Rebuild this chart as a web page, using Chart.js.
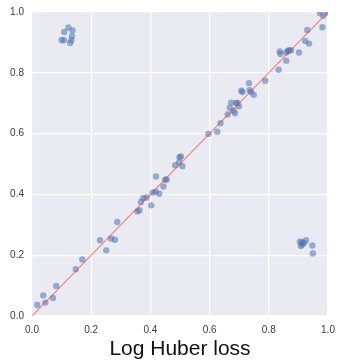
<!DOCTYPE html>
<html lang="en">
<head>
  <meta charset="UTF-8" />
  <title>Log Huber loss</title>
  <style>
    html, body { margin: 0; padding: 0; background: #fff; }
    #wrap { width: 340px; height: 360px; position: relative; }
  </style>
</head>
<body>
<div id="wrap">
  <canvas id="chart"></canvas>
</div>
<script src="https://cdn.jsdelivr.net/npm/chart.js"></script>
<script type="text/javascript">
  // predicted vs true values
  const xValues = [
    0.123, 0.109, 0.137, 0.135, 0.100, 0.108, 0.133, 0.129,
    0.905, 0.913, 0.919, 0.926, 0.908, 0.947, 0.949, 0.912,
    0.018, 0.038, 0.045, 0.071, 0.082, 0.148, 0.170, 0.230, 0.251, 0.267,
    0.280, 0.288, 0.356, 0.363, 0.368, 0.376, 0.387, 0.403, 0.408, 0.418,
    0.419, 0.430, 0.444, 0.450, 0.455, 0.484, 0.497, 0.498, 0.503, 0.508,
    0.596, 0.626, 0.637, 0.661, 0.668, 0.673, 0.680, 0.686, 0.689, 0.694,
    0.699, 0.707, 0.711, 0.733, 0.735, 0.740, 0.749, 0.788, 0.833, 0.837,
    0.839, 0.859, 0.859, 0.864, 0.869, 0.875, 0.902, 0.923, 0.930, 0.936,
    0.973, 0.984, 0.981, 0.998
  ];
  const yValues = [
    0.949, 0.934, 0.939, 0.920, 0.908, 0.907, 0.907, 0.898,
    0.244, 0.235, 0.240, 0.249, 0.230, 0.232, 0.206, 0.243,
    0.036, 0.068, 0.044, 0.059, 0.099, 0.154, 0.186, 0.249, 0.216, 0.255,
    0.251, 0.309, 0.344, 0.348, 0.375, 0.388, 0.390, 0.364, 0.406, 0.409,
    0.459, 0.402, 0.426, 0.448, 0.449, 0.496, 0.506, 0.522, 0.525, 0.493,
    0.599, 0.606, 0.634, 0.663, 0.685, 0.702, 0.675, 0.667, 0.701, 0.701,
    0.690, 0.741, 0.737, 0.766, 0.743, 0.737, 0.728, 0.774, 0.810, 0.870,
    0.862, 0.840, 0.867, 0.872, 0.874, 0.874, 0.867, 0.905, 0.941, 0.896,
    0.996, 0.988, 0.950, 0.998
  ];
  // identity line
  const lineX = [0, 1];
  const lineY = [0, 1];
  const tickValues = [0, 0.2, 0.4, 0.6, 0.8, 1.0];

  const points = xValues.map((x, i) => ({x: x, y: yValues[i]}));
  const line = lineX.map((x, i) => ({x: x, y: lineY[i]}));

  // seaborn-like grey plot background
  const plotBg = {
    id: 'plotBg',
    beforeDraw(chart) {
      const a = chart.chartArea;
      const ctx = chart.ctx;
      ctx.save();
      ctx.fillStyle = '#eaeaf2';
      ctx.fillRect(a.left, a.top, a.right - a.left, a.bottom - a.top);
      ctx.restore();
    }
  };

  const tickFont = {family: '"Liberation Sans", Arial, sans-serif', size: 10};

  new Chart(document.getElementById('chart'), {
    type: 'scatter',
    data: {
      datasets: [{
        type: 'line',
        data: line,
        borderColor: 'rgba(250,60,60,0.6)',
        borderWidth: 1.2,
        pointRadius: 0,
        fill: false,
        order: 0
      }, {
        data: points,
        backgroundColor: 'rgba(76,114,176,0.55)',
        borderWidth: 0,
        pointRadius: 3.2,
        order: 1
      }]
    },
    options: {
      responsive: true,
      maintainAspectRatio: false,
      animation: false,
      layout: {padding: {left: 0, right: 12, top: 12, bottom: 0}},
      plugins: {legend: {display: false}, tooltip: {enabled: false}},
      scales: {
        x: {
          type: 'linear', min: 0, max: 1,
          afterBuildTicks: (s) => { s.ticks = tickValues.map(v => ({value: v})); },
          afterFit: (s) => { s.height = 44; s.paddingLeft = 0; s.paddingRight = 0; },
          grid: {color: '#ffffff', lineWidth: 1.2, drawTicks: false},
          border: {display: false},
          ticks: {
            font: tickFont, color: '#3a3a3a', padding: 8,
            callback: (v) => v.toFixed(1)
          },
          title: {
            display: true, text: 'Log Huber loss', color: '#111',
            font: {family: '"Liberation Sans", Arial, sans-serif', size: 21},
            padding: {top: 0, bottom: -2}
          }
        },
        y: {
          type: 'linear', min: 0, max: 1,
          afterBuildTicks: (s) => { s.ticks = tickValues.map(v => ({value: v})); },
          afterFit: (s) => { s.width = 32; s.paddingTop = 0; s.paddingBottom = 0; },
          grid: {color: '#ffffff', lineWidth: 1.2, drawTicks: false},
          border: {display: false},
          ticks: {
            font: tickFont, color: '#3a3a3a', padding: 8,
            callback: (v) => v.toFixed(1)
          }
        }
      }
    },
    plugins: [plotBg]
  });
</script>
</body>
</html>
